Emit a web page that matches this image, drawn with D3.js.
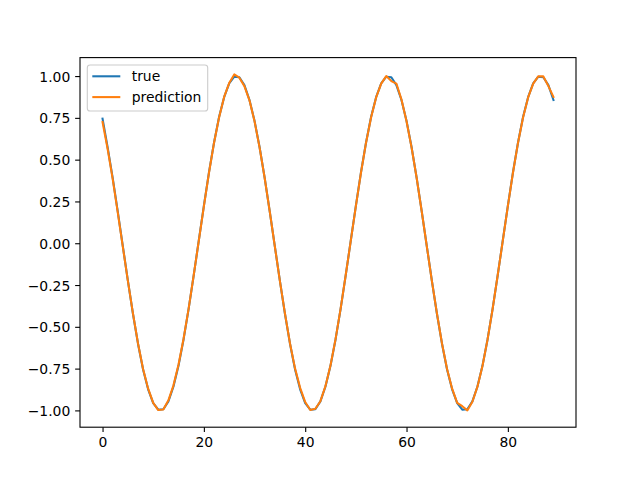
<!DOCTYPE html>
<html>
<head>
<meta charset="utf-8">
<script src="https://cdn.jsdelivr.net/npm/d3@7"></script>
<style>
  html, body { margin: 0; padding: 0; background: #fff; }
  svg { display: block; }
  text { font-family: "DejaVu Sans", sans-serif; }
</style>
</head>
<body>
<svg id="chart" width="640" height="480"></svg>
<script>
// ---- data ----
const seriesNames = ["true", "prediction"];
const trueValues = [
  0.745, 0.574, 0.391, 0.191, -0.017, -0.224, -0.422, -0.601, -0.755, -0.874,
  -0.956, -0.996, -0.993, -0.946, -0.857, -0.732, -0.574, -0.391, -0.191, 0.017,
  0.224, 0.422, 0.601, 0.755, 0.874, 0.956, 0.996, 0.993, 0.946, 0.857,
  0.732, 0.574, 0.391, 0.191, -0.017, -0.224, -0.422, -0.601, -0.755, -0.874,
  -0.956, -0.996, -0.993, -0.946, -0.857, -0.732, -0.574, -0.391, -0.191, 0.017,
  0.224, 0.422, 0.601, 0.755, 0.874, 0.956, 0.996, 0.993, 0.946, 0.857,
  0.732, 0.574, 0.391, 0.191, -0.017, -0.224, -0.422, -0.601, -0.755, -0.874,
  -0.956, -0.996, -0.993, -0.946, -0.857, -0.732, -0.574, -0.391, -0.191, 0.017,
  0.224, 0.422, 0.601, 0.755, 0.874, 0.956, 0.996, 0.993, 0.946, 0.857
];
const predictionValues = [
  0.725, 0.565, 0.385, 0.185, -0.020, -0.225, -0.420, -0.600, -0.752, -0.870,
  -0.955, -0.998, -0.995, -0.940, -0.850, -0.725, -0.570, -0.390, -0.190, 0.015,
  0.220, 0.420, 0.600, 0.752, 0.875, 0.958, 1.010, 0.990, 0.940, 0.855,
  0.730, 0.572, 0.390, 0.190, -0.018, -0.225, -0.420, -0.600, -0.750, -0.865,
  -0.950, -0.998, -0.990, -0.945, -0.855, -0.730, -0.572, -0.390, -0.190, 0.016,
  0.222, 0.420, 0.600, 0.752, 0.872, 0.955, 1.000, 0.970, 0.955, 0.860,
  0.730, 0.572, 0.390, 0.190, -0.018, -0.225, -0.420, -0.600, -0.752, -0.870,
  -0.955, -0.975, -1.000, -0.948, -0.858, -0.733, -0.575, -0.392, -0.190, 0.015,
  0.222, 0.420, 0.600, 0.752, 0.872, 0.955, 0.998, 0.998, 0.940, 0.875
];
const xTicks = [0, 20, 40, 60, 80];
const yTicks = [-1.00, -0.75, -0.50, -0.25, 0.00, 0.25, 0.50, 0.75, 1.00];
const colors = ["#1f77b4", "#ff7f0e"];

// ---- layout ----
const W = 640, H = 480;
const axLeft = 80, axRight = 576, axTop = 57.6, axBottom = 427.2;
const svg = d3.select("#chart");

const n = trueValues.length;
const xMin = 0, xMax = n - 1;
const xPad = (xMax - xMin) * 0.05;
const allY = trueValues.concat(predictionValues);
const [yMin, yMax] = d3.extent(allY);
const yPad = (yMax - yMin) * 0.05;

const x = d3.scaleLinear().domain([xMin - xPad, xMax + xPad]).range([axLeft, axRight]);
const y = d3.scaleLinear().domain([yMin - yPad, yMax + yPad]).range([axBottom, axTop]);

svg.append("defs").append("clipPath").attr("id", "clip")
  .append("rect").attr("x", axLeft).attr("y", axTop)
  .attr("width", axRight - axLeft).attr("height", axBottom - axTop);

const line = d3.line().x((d, i) => x(i)).y(d => y(d));

[trueValues, predictionValues].forEach((vals, k) => {
  svg.append("path")
    .datum(vals)
    .attr("clip-path", "url(#clip)")
    .attr("fill", "none")
    .attr("stroke", colors[k])
    .attr("stroke-width", 2.08)
    .attr("stroke-linejoin", "round")
    .attr("stroke-linecap", "square")
    .attr("d", line);
});

// axes
const fmtY = v => d3.format(".2f")(v).replace("-", "\u2212");
const xAxis = d3.axisBottom(x).tickValues(xTicks).tickSize(4.86).tickPadding(4.86)
  .tickFormat(d3.format("d"));
const yAxis = d3.axisLeft(y).tickValues(yTicks).tickSize(4.86).tickPadding(4.86)
  .tickFormat(fmtY);

const gx = svg.append("g").attr("transform", `translate(0,${axBottom})`).call(xAxis);
const gy = svg.append("g").attr("transform", `translate(${axLeft},0)`).call(yAxis);
[gx, gy].forEach(g => {
  g.select(".domain").remove();
  g.selectAll(".tick line").attr("stroke", "#000").attr("stroke-width", 1.1);
  g.selectAll(".tick text").attr("fill", "#000")
    .style("font-family", "'DejaVu Sans', sans-serif").style("font-size", "13.9px");
});
gx.selectAll(".tick text").attr("dy", "0.71em");
gy.selectAll(".tick text").attr("dy", "0.36em");

// spines
svg.append("rect")
  .attr("x", axLeft).attr("y", axTop)
  .attr("width", axRight - axLeft).attr("height", axBottom - axTop)
  .attr("fill", "none").attr("stroke", "#000").attr("stroke-width", 1.1);

// legend
const lg = svg.append("g");
lg.append("rect")
  .attr("x", 87.3).attr("y", 65).attr("width", 120.4).attr("height", 46)
  .attr("rx", 2.8).attr("ry", 2.8)
  .attr("fill", "#fff").attr("fill-opacity", 0.8)
  .attr("stroke", "#cccccc").attr("stroke-width", 1.1);
seriesNames.forEach((name, k) => {
  const yy = 76.3 + k * 20.8;
  lg.append("line")
    .attr("x1", 92.3).attr("x2", 120.3).attr("y1", yy).attr("y2", yy)
    .attr("stroke", colors[k]).attr("stroke-width", 2.08);
  lg.append("text")
    .attr("x", 131.7).attr("y", yy).attr("dy", "0.36em")
    .attr("fill", "#000").style("font-size", "13.9px")
    .text(name);
});
</script>
</body>
</html>
